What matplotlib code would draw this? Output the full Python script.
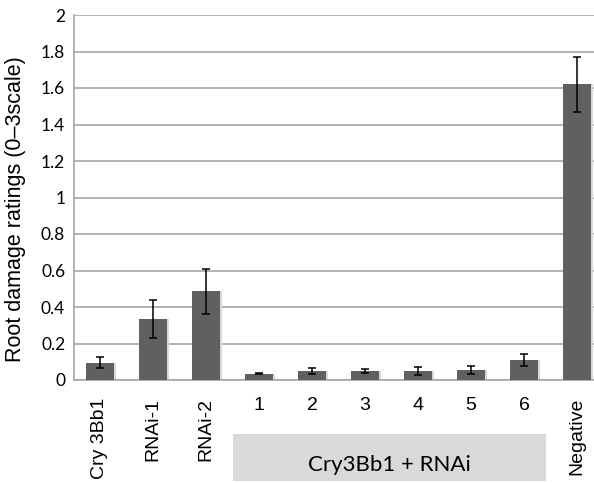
import matplotlib
matplotlib.use("Agg")
import matplotlib.pyplot as plt
from matplotlib.patches import Rectangle
import numpy as np

categories = ["Cry 3Bb1", "RNAi-1", "RNAi-2", "1", "2", "3", "4", "5", "6", "Negative"]
values = [0.095, 0.335, 0.485, 0.035, 0.05, 0.05, 0.05, 0.055, 0.11, 1.62]
errors = [0.03, 0.105, 0.122, 0.004, 0.015, 0.012, 0.02, 0.02, 0.035, 0.15]
rotated = [True, True, True, False, False, False, False, False, False, True]
group_label = "Cry3Bb1 + RNAi"
yticks = [0, 0.2, 0.4, 0.6, 0.8, 1, 1.2, 1.4, 1.6, 1.8, 2]
ytick_labels = ["0", "0.2", "0.4", "0.6", "0.8", "1", "1.2", "1.4", "1.6", "1.8", "2"]

plt.rcParams['font.family'] = ['Liberation Sans', 'DejaVu Sans']

W, H = 594, 483
fig = plt.figure(figsize=(W / 100, H / 100), dpi=100)
x0, x1 = 73.5, 603.5
y0, y1 = 380, 15
ax = fig.add_axes([x0 / W, (H - y0) / H, (x1 - x0) / W, (y0 - y1) / H])

x = np.arange(len(categories))
# subtle shadow
ax.bar(x + 0.05, values, width=0.51, color="#d8d8d8", zorder=2)
ax.bar(x, values, width=0.51, color="#606060", zorder=3)
ax.errorbar(x, values, yerr=errors, fmt="none", ecolor="black", elinewidth=1.1,
            capsize=2.8, capthick=1.1, zorder=4)

ax.set_xlim(-0.5, len(categories) - 0.5)
ax.set_ylim(0, 2)
ax.set_yticks(yticks)
ax.set_yticklabels(ytick_labels, fontsize=12.5, family=['Lato', 'DejaVu Sans'])
ax.yaxis.grid(True, color="#a6a6a6", linewidth=1.2, zorder=0)
ax.set_axisbelow(True)
ax.tick_params(axis="y", length=0, pad=6)
ax.tick_params(axis="x", length=0)
ax.set_xticks([])
for s in ["top", "right"]:
    ax.spines[s].set_visible(False)
for s in ["left", "bottom"]:
    ax.spines[s].set_color("#a6a6a6")
    ax.spines[s].set_linewidth(1.2)

fig.text(16 / W, (H - 209) / H, "Root damage ratings (0–3scale)", rotation=90,
         ha="center", va="center", fontsize=15.5)

# x labels
px = 1.0 / (y0 - y1) * 2  # data units per pixel in y
for xi, lab, rot in zip(x, categories, rotated):
    if rot:
        ax.text(xi, -18 * px, lab, rotation=90, ha="center", va="top", fontsize=14,
                transform=ax.transData, clip_on=False, zorder=5)
    else:
        ax.text(xi, -25 * px, lab, ha="center", va="center", fontsize=14,
                transform=ax.transData, clip_on=False)

# group box
bx0, bx1, by_top, by_bot = 233, 546, 434, 481
fig.add_artist(Rectangle((bx0 / W, (H - by_bot) / H), (bx1 - bx0) / W, (by_bot - by_top) / H,
                         transform=fig.transFigure, facecolor="#d9d9d9", edgecolor="none",
                         zorder=0))
fig.text((bx0 + bx1) / 2 / W, (H - 465) / H, group_label,
         ha="center", va="center", fontsize=16, family=['Lato', 'DejaVu Sans'])

fig.savefig("out.png", dpi=100)
